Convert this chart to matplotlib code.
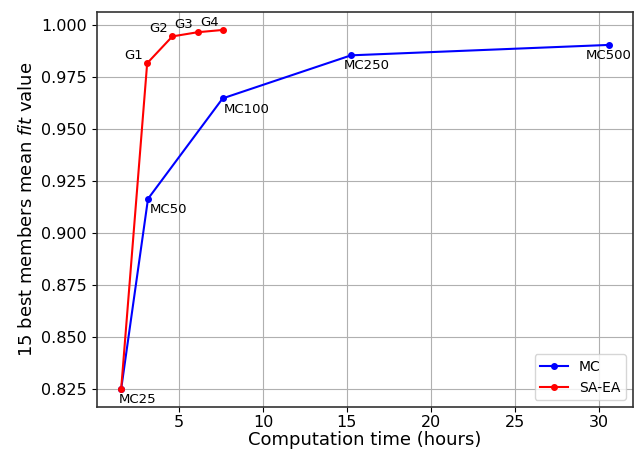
import matplotlib
matplotlib.use("Agg")
import matplotlib.pyplot as plt

mc_time = [1.55, 3.15, 7.6, 15.25, 30.6]
mc_fit = [0.825, 0.9165, 0.9648, 0.9855, 0.9905]
mc_labels = ["MC25", "MC50", "MC100", "MC250", "MC500"]

ea_time = [1.55, 3.1, 4.6, 6.1, 7.6]
ea_fit = [0.825, 0.9817, 0.9946, 0.9966, 0.9977]
ea_labels = ["", "G1", "G2", "G3", "G4"]

fig = plt.figure(figsize=(6.41, 4.53), dpi=100)
ax = fig.add_axes([0.151, 0.1015, 0.8365, 0.872])

ax.plot(mc_time, mc_fit, "b.-", markersize=8, label="MC")
ax.plot(ea_time, ea_fit, "r.-", markersize=8, label="SA-EA")

# label offsets (points) picked by eye
mc_dx = [-2, 1.5, 1, -5, 0]
for i, (x, y, s) in enumerate(zip(mc_time, mc_fit, mc_labels)):
    ha = "center" if i == len(mc_labels) - 1 else "left"
    ax.annotate(s, (x, y), xytext=(mc_dx[i], -3), textcoords="offset points",
                ha=ha, va="top", fontsize=9.5)

for x, y, s in zip(ea_time, ea_fit, ea_labels):
    if s:
        ax.annotate(s, (x, y), xytext=(-3, 5.5), textcoords="offset points",
                    ha="right", va="center", fontsize=9.5)

ax.set_yticks([0.825, 0.85, 0.875, 0.9, 0.925, 0.95, 0.975, 1.0])
ax.set_yticklabels([f"{v:.3f}" for v in ax.get_yticks()])
ax.tick_params(axis="both", labelsize=11.5)
ax.tick_params(axis="x", pad=2)
ax.set_xlabel("Computation time (hours)", fontsize=13, labelpad=1)
ax.set_ylabel("15 best members mean $\\it{fit}$ value", fontsize=13)
ax.grid(True, color="#b0b0b0", linewidth=0.8)
for sp in ax.spines.values():
    sp.set_linewidth(1.2)
    sp.set_color("#333333")
ax.legend(loc="lower right", fontsize=10)

fig.savefig("out.png", dpi=100)
